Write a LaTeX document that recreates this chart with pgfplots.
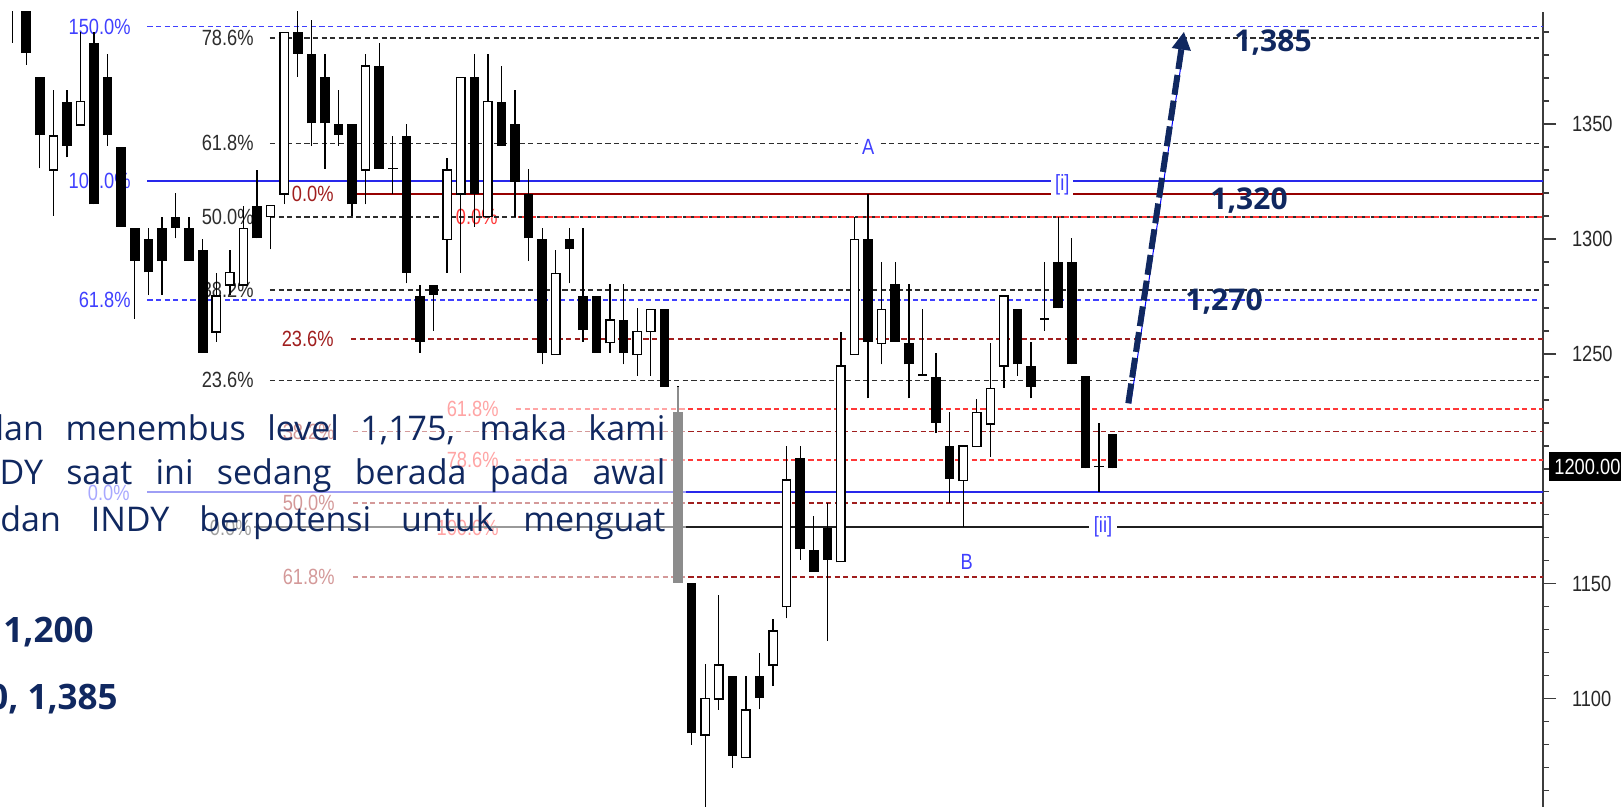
\documentclass[border=0pt]{standalone}
\usepackage{pgfplots}
\pgfplotsset{compat=1.18}
\usepackage{pgfplotstable}
\usepackage{graphicx}
\usepackage{fontspec}
\setmainfont{Liberation Sans}
\newfontfamily\osans{Open Sans}
\usetikzlibrary{arrows.meta}

\definecolor{navy}{RGB}{16,40,96}
\definecolor{fibblue}{RGB}{64,64,255}
\definecolor{solidblue}{RGB}{40,40,235}
\definecolor{fibblack}{RGB}{45,45,45}
\definecolor{fibdark}{RGB}{160,30,30}
\definecolor{soliddark}{RGB}{150,0,0}
\definecolor{fibred}{RGB}{255,55,55}
\definecolor{axgray}{RGB}{60,60,60}
\definecolor{ticklab}{RGB}{40,40,40}

\pgfplotstableread{
i o h l c
0 1408 1410 1385.4 1402
1 1405 1407 1375.7 1380.8
2 1370.3 1370.3 1330.7 1345.2
4 1359.7 1364.8 1335.5 1340.5
6 1385.1 1390.2 1315.1 1315.1
7 1370.3 1380.3 1340.5 1345.2
8 1340.2 1340.2 1305.4 1305.4
9 1304.9 1304.9 1265.2 1290.4
10 1300.0 1304.6 1275.6 1285.5
11 1304.9 1309.7 1275.6 1290.4
12 1309.7 1319.9 1300.3 1304.9
13 1304.9 1309.7 1290.4 1290.4
14 1295.2 1299.9 1250.6 1250.6
18 1314.5 1330.0 1300.3 1300.3
21 1389.9 1402 1370.6 1380.5
22 1380.3 1395.3 1340.6 1350.3
23 1370.3 1380.3 1330.5 1350.3
24 1349.9 1364.8 1340.5 1345.2
25 1349.9 1349.9 1310.0 1315.1
27 1375.3 1385.1 1330.5 1330.5
28 1331.0 1345.0 1319.4 1330.4
29 1345.0 1349.9 1280.7 1285.4
30 1275.3 1280.0 1250.6 1255.3
31 1280.0 1280.0 1260.0 1275.6
34 1370.3 1380.3 1305.4 1319.6
36 1359.7 1375.4 1340.5 1340.5
37 1349.9 1364.8 1309.7 1324.9
38 1319.6 1330.3 1290.4 1300.3
39 1300.0 1304.9 1245.5 1250.6
41 1300.0 1304.9 1280.7 1295.5
42 1275.2 1304.9 1255.3 1260.4
43 1275.2 1275.2 1250.6 1250.6
45 1264.8 1280.3 1245.5 1250.6
48 1269.4 1269.4 1235.8 1235.8
49 1224.9 1236.0 1150.5 1150.5
50 1150.2 1150.2 1079.9 1084.9
53 1110.0 1110.0 1070.0 1075.1
55 1110.0 1119.7 1095.4 1100.5
58 1204.9 1209.9 1160.4 1165.1
59 1164.7 1179.5 1155.3 1155.3
60 1174.4 1185.3 1125.1 1160.4
63 1299.9 1319.4 1230.7 1255.3
65 1280.3 1290.1 1255.3 1255.3
66 1254.9 1280.3 1230.7 1245.5
67 1241.1 1269.4 1240.5 1240.5
68 1240.1 1250.3 1215.5 1220.1
69 1209.9 1224.9 1185.3 1195.6
74 1269.4 1269.4 1240.4 1245.5
75 1244.8 1255.3 1230.7 1235.8
76 1265.5 1290.1 1260.0 1264.9
77 1290.1 1309.7 1269.8 1269.8
78 1290.1 1300.3 1245.5 1245.5
79 1240.4 1240.4 1200.2 1200.2
80 1201.2 1219.8 1190.1 1200.6
81 1215.0 1215.0 1200.2 1200.2
}\down

\pgfplotstableread{
i o h l c
3 1330.0 1364.8 1310.0 1344.8
5 1349.6 1390.2 1349.6 1359.7
15 1259.5 1285.4 1255.3 1275.2
16 1280.0 1295.2 1275.6 1285.4
17 1280.0 1314.4 1280.0 1304.6
19 1309.7 1314.5 1295.5 1314.5
20 1319.6 1389.9 1315.2 1389.9
26 1330.0 1380.3 1315.1 1375.3
32 1299.9 1335.1 1285.4 1330.0
33 1319.6 1370.3 1285.4 1370.3
35 1309.7 1380.3 1309.7 1359.7
40 1249.8 1295.2 1249.8 1285.1
44 1254.9 1280.3 1250.6 1264.8
46 1249.8 1269.8 1240.4 1259.7
47 1259.7 1269.4 1240.4 1269.4
51 1084.2 1115.0 1053.0 1100.2
52 1099.9 1145.1 1095.1 1114.7
54 1074.4 1110.0 1074.4 1095.1
56 1114.7 1134.5 1105.5 1129.5
57 1140.0 1209.9 1135.0 1195.2
61 1159.6 1259.7 1159.6 1244.8
62 1249.8 1309.7 1249.8 1299.9
64 1254.6 1290.1 1245.5 1269.4
70 1194.9 1209.9 1174.6 1209.9
71 1209.7 1230.4 1209.7 1224.6
72 1219.5 1254.9 1205.3 1235.0
73 1244.8 1275.2 1235.3 1275.2
}\up

\tikzset{
  kdash/.style={fibblack, line width=0.85pt, dash pattern=on 2.6pt off 1.7pt},
  bdash/.style={fibblue, line width=0.85pt, dash pattern=on 2.6pt off 1.7pt},
  rdash/.style={fibred, line width=0.85pt, dash pattern=on 2.6pt off 1.7pt},
  ddash/.style={fibdark, line width=0.85pt, dash pattern=on 2.6pt off 1.7pt},
  bsolid/.style={solidblue, line width=1pt},
  dsolid/.style={soliddark, line width=1pt},
  ksolid/.style={black!88, line width=0.85pt},
  fl/.style={anchor=east, inner sep=0pt, font=\fontsize{11pt}{11pt}\selectfont},
}

\begin{document}
\begin{tikzpicture}
\useasboundingbox (0,0) rectangle (810.5pt,403.5pt);
% Fibonacci level labels (pixel coordinates, origin top-left)
\begin{scope}[x=0.5pt,y=-0.5pt,shift={(0,403.5pt)}]
\node[fl, text=fibblue]  at (131,27)  {\scalebox{0.83}[1]{150.0\%}};
\node[fl, text=fibblack] at (254,38)  {\scalebox{0.83}[1]{78.6\%}};
\node[fl, text=fibblack] at (254,143) {\scalebox{0.83}[1]{61.8\%}};
\node[fl, text=fibblue]  at (131,181) {\scalebox{0.83}[1]{100.0\%}};
\node[fl, text=fibdark]  at (334,194) {\scalebox{0.83}[1]{0.0\%}};
\node[fl, text=fibblack] at (254,217) {\scalebox{0.83}[1]{50.0\%}};
\node[fl, text=fibred]   at (498,217) {\scalebox{0.83}[1]{0.0\%}};
\node[fl, text=fibblack] at (254,290) {\scalebox{0.83}[1]{38.2\%}};
\node[fl, text=fibblue]  at (131,300) {\scalebox{0.83}[1]{61.8\%}};
\node[fl, text=fibdark]  at (334,339) {\scalebox{0.83}[1]{23.6\%}};
\node[fl, text=fibblack] at (254,380) {\scalebox{0.83}[1]{23.6\%}};
\node[fl, text=fibred]   at (499,409) {\scalebox{0.83}[1]{61.8\%}};
\node[fl, text=fibdark]  at (335,432) {\scalebox{0.83}[1]{38.2\%}};
\node[fl, text=fibred]   at (499,460) {\scalebox{0.83}[1]{78.6\%}};
\node[fl, text=fibblue]  at (130,493) {\scalebox{0.83}[1]{0.0\%}};
\node[fl, text=fibdark]  at (335,503) {\scalebox{0.83}[1]{50.0\%}};
\node[fl, text=fibblack] at (252,528) {\scalebox{0.83}[1]{0.0\%}};
\node[fl, text=fibred]   at (499,528) {\scalebox{0.83}[1]{100.0\%}};
\node[fl, text=fibdark]  at (335,577) {\scalebox{0.83}[1]{61.8\%}};
\end{scope}

\begin{axis}[
  at={(0,0)}, anchor=south west, scale only axis,
  width=771.5pt, height=397.5pt,
  xmin=-0.928, xmax=112.70, ymin=1052.9, ymax=1398.75,
  axis x line=none, axis y line*=right,
  ytick={1100,1150,1250,1300,1350},
  yticklabels={\scalebox{0.83}[1]{1100},\scalebox{0.83}[1]{1150},\scalebox{0.83}[1]{1250},\scalebox{0.83}[1]{1300},\scalebox{0.83}[1]{1350}},
  minor ytick={1060,1070,1080,1090,1110,1120,1130,1140,1160,1170,1180,1190,1200,1210,1220,1230,1240,1260,1270,1280,1290,1310,1320,1330,1340,1360,1370,1380,1390},
  tick align=outside,
  major tick length=6.5pt, minor tick length=3pt,
  every tick/.style={draw=axgray, line width=0.65pt},
  axis line style={draw=axgray, line width=0.75pt},
  yticklabel style={anchor=west, inner sep=0pt, xshift=7.8pt, text=ticklab, font=\fontsize{11pt}{11pt}\selectfont},
]
% horizontal levels
\addplot[bdash]  coordinates {(9.93,1392.4) (113,1392.4)};
\addplot[kdash]  coordinates {(18.95,1387.4) (113,1387.4)};
\addplot[kdash]  coordinates {(18.95,1341.6) (113,1341.6)};
\addplot[bsolid] coordinates {(9.93,1325.2) (113,1325.2)};
\addplot[dsolid] coordinates {(24.92,1319.4) (113,1319.4)};
\addplot[kdash]  coordinates {(18.95,1309.6) (113,1309.6)};
\addplot[rdash, dash phase=2.1pt] coordinates {(37.22,1309.6) (113,1309.6)};
\addplot[kdash]  coordinates {(18.95,1277.7) (113,1277.7)};
\addplot[bdash]  coordinates {(9.93,1273.6) (112.4,1273.6)};
\addplot[ddash]  coordinates {(24.92,1256.4) (113,1256.4)};
\addplot[kdash]  coordinates {(18.95,1238.5) (113,1238.5)};
\addplot[rdash]  coordinates {(37.07,1225.9) (113,1225.9)};
\addplot[ddash]  coordinates {(25.07,1216.2) (113,1216.2)};
\addplot[rdash]  coordinates {(37.07,1203.9) (113,1203.9)};
\addplot[bsolid] coordinates {(9.93,1190.1) (113,1190.1)};
\addplot[ddash]  coordinates {(25.07,1185.0) (113,1185.0)};
\addplot[ksolid] coordinates {(17.78,1174.6) (113,1174.6)};
\addplot[ddash]  coordinates {(25.07,1153.1) (113,1153.1)};
% wave labels
\node[text=fibblue, fill=white, inner xsep=2pt, inner ysep=0.5pt, font=\fontsize{11pt}{11pt}\selectfont] at (axis cs:63.0,1340.2) {\scalebox{0.83}[1]{A}};
\node[text=fibblue, fill=white, inner xsep=2pt, inner ysep=0.5pt, font=\fontsize{11pt}{11pt}\selectfont] at (axis cs:77.3,1323.6) {\scalebox{0.83}[1]{[i]}};
\node[text=fibblue, fill=white, inner xsep=2.5pt, inner ysep=0.5pt, font=\fontsize{11pt}{11pt}\selectfont] at (axis cs:80.3,1174.8) {\scalebox{0.83}[1]{[ii]}};
\node[text=fibblue, inner sep=0pt, font=\fontsize{11pt}{11pt}\selectfont] at (axis cs:70.26,1159.6) {\scalebox{0.83}[1]{B}};
% wicks
\addplot[draw=none, mark=none, error bars/.cd, y dir=plus, y explicit, error mark=none,
  error bar style={draw=black, line width=0.65pt}]
  table[x=i, y=l, y error plus expr=\thisrow{h}-\thisrow{l}] {\down};
\addplot[draw=none, mark=none, error bars/.cd, y dir=plus, y explicit, error mark=none,
  error bar style={draw=black, line width=0.65pt}]
  table[x=i, y=l, y error plus expr=\thisrow{h}-\thisrow{l}] {\up};
% black bodies
\addplot[draw=none, mark=none, error bars/.cd, y dir=plus, y explicit, error mark=none,
  error bar style={draw=black, line width=4.8pt}]
  table[x=i, y=c, y error plus expr=\thisrow{o}-\thisrow{c}] {\down};
% white bodies
\addplot[draw=none, mark=none, error bars/.cd, y dir=plus, y explicit, error mark=none,
  error bar style={draw=black, line width=4.8pt}]
  table[x=i, y expr=\thisrow{o}-0.28, y error plus expr=\thisrow{c}-\thisrow{o}+0.56] {\up};
\addplot[draw=none, mark=none, error bars/.cd, y dir=plus, y explicit, error mark=none,
  error bar style={draw=white, line width=3.5pt}]
  table[x=i, y expr=\thisrow{o}+0.28, y error plus expr=\thisrow{c}-\thisrow{o}-0.56] {\up};
% faded panel behind the commentary text
\fill[white, fill opacity=0.55] (axis cs:-2,1073.3) rectangle (axis cs:49.59,1235.6);
% projection arrow
\draw[blue, line width=0.5pt] ([xshift=1.2pt]axis cs:82.16,1228.5) -- ([xshift=1.2pt]axis cs:86.1,1385);
\draw[navy, line width=3pt, dash pattern=on 10pt off 3pt, -{Triangle[length=9pt,width=9pt]}]
  (axis cs:82.16,1228.5) -- (axis cs:86.26,1390.2);
\end{axis}

% overlay texts (pixel coordinates, origin top-left)
\begin{scope}[x=0.5pt,y=-0.5pt,shift={(0,403.5pt)}]
\node[anchor=base west, inner sep=0pt, text=navy, font=\osans\bfseries\fontsize{15pt}{15pt}\selectfont] at (1234,51.7) {1,385};
\node[anchor=base west, inner sep=0pt, text=navy, font=\osans\bfseries\fontsize{15pt}{15pt}\selectfont] at (1210,210) {1,320};
\node[anchor=base west, inner sep=0pt, text=navy, font=\osans\bfseries\fontsize{15pt}{15pt}\selectfont] at (1185,311) {1,270};
\node[anchor=base west, inner sep=0pt, text=navy, font=\osans\fontsize{17pt}{17pt}\selectfont] at (-17,441) {\makebox[341pt][s]{dan menembus level 1,175, maka kami}};
\node[anchor=base west, inner sep=0pt, text=navy, font=\osans\fontsize{17pt}{17pt}\selectfont] at (-36,485) {\makebox[350.5pt][s]{INDY saat ini sedang berada pada awal}};
\node[anchor=base west, inner sep=0pt, text=navy, font=\osans\fontsize{17pt}{17pt}\selectfont] at (0,531.7) {\makebox[332.5pt][s]{dan INDY berpotensi untuk menguat}};
\node[anchor=base west, inner sep=0pt, text=navy, font=\osans\bfseries\fontsize{17.5pt}{17.5pt}\selectfont] at (3,643) {1,200};
\node[anchor=base east, inner sep=0pt, text=navy, font=\osans\bfseries\fontsize{17.5pt}{17.5pt}\selectfont] at (118,710) {1,320, 1,385};
\node[anchor=west, fill=black, text=white, inner xsep=2.5pt, inner ysep=0pt, minimum height=14.5pt, font=\fontsize{11pt}{11pt}\selectfont] at (1549,466.5) {\scalebox{0.83}[1]{1200.000}};
\end{scope}
\end{tikzpicture}
\end{document}
